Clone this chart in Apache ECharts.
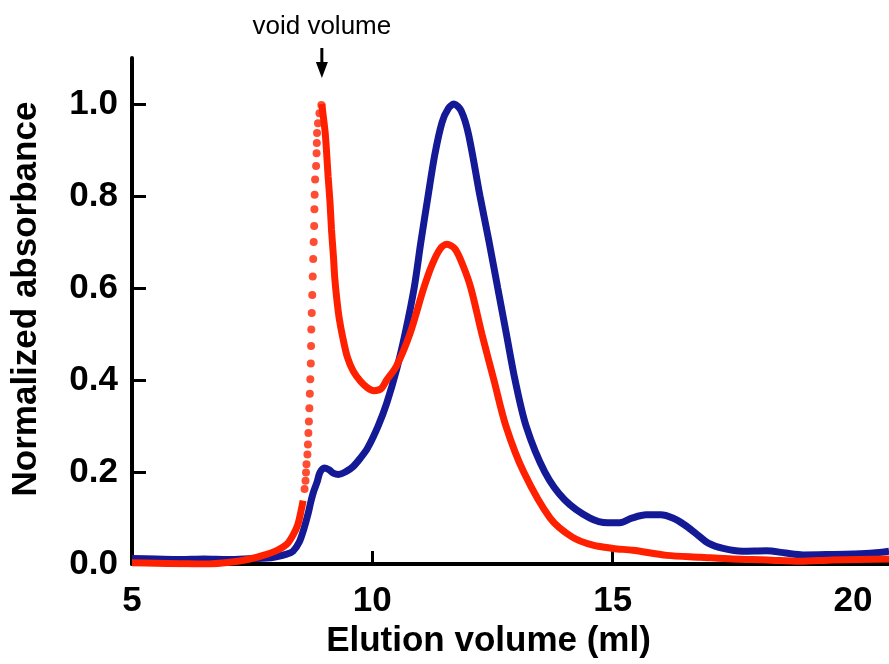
<!DOCTYPE html>
<html lang="en">
<head>
    <meta charset="UTF-8">
    <title>Elution profile</title>
    <script src="https://cdn.jsdelivr.net/npm/echarts@6/dist/echarts.min.js"></script>
    <style>
        html, body { margin: 0; padding: 0; background: #fff; }
        #main { width: 889px; height: 664px; }
    </style>
</head>
<body>
    <div id="main"></div>
    <script type="text/javascript">
        // blue trace
        var blueVolume = [5.0, 5.5, 6.0, 6.5, 7.0, 7.5, 7.8, 8.0, 8.2, 8.35, 8.48, 8.58, 8.66, 8.72, 8.78, 8.85, 8.91,
            9.0, 9.1, 9.2, 9.3, 9.45, 9.6, 9.75, 9.9, 10.12, 10.3, 10.51, 10.68, 10.87, 11.01, 11.16, 11.3, 11.45,
            11.58, 11.7, 11.85, 12.0, 12.24, 12.43, 12.61, 12.79, 12.97, 13.2, 13.59, 14.0, 14.53, 14.9, 15.15,
            15.4, 15.7, 16.0, 16.25, 16.5, 16.75, 17.0, 17.3, 17.7, 18.2, 18.6, 18.96, 19.58, 20.0, 20.42, 20.75];
        var blueAbs = [0.012, 0.011, 0.010, 0.011, 0.010, 0.012, 0.013, 0.016, 0.021, 0.028, 0.048, 0.078, 0.108, 0.135, 0.158, 0.178, 0.199,
            0.209, 0.205, 0.197, 0.195, 0.201, 0.212, 0.23, 0.252, 0.3, 0.35, 0.425, 0.5, 0.6, 0.7, 0.8, 0.89, 0.96,
            0.99, 1.0, 0.985, 0.935, 0.8, 0.7, 0.6, 0.5, 0.4, 0.3, 0.2, 0.14, 0.1, 0.09, 0.09,
            0.1, 0.107, 0.107, 0.1, 0.085, 0.065, 0.045, 0.034, 0.028, 0.029, 0.024, 0.02, 0.021, 0.022, 0.024, 0.028];

        // red trace, baseline before the void peak
        var redBaseVolume = [5.0, 5.5, 6.0, 6.5, 7.04, 7.45, 7.73, 8.02, 8.22, 8.35, 8.45, 8.52, 8.56];
        var redBaseAbs = [0.003, 0.002, 0.001, 0.0, 0.004, 0.011, 0.019, 0.03, 0.043, 0.063, 0.086, 0.117, 0.138];

        // red trace, steep rise (individual samples visible)
        var redRiseVolume = [8.59, 8.61, 8.62, 8.63, 8.65, 8.66, 8.67, 8.68, 8.69, 8.70, 8.71, 8.72, 8.725, 8.73, 8.74,
            8.75, 8.76, 8.77, 8.78, 8.79, 8.795, 8.80, 8.81, 8.83, 8.84, 8.845, 8.85, 8.87, 8.90, 8.94];
        var redRiseAbs = [0.163, 0.181, 0.199, 0.217, 0.238, 0.26, 0.285, 0.31, 0.339, 0.37, 0.402, 0.436, 0.474, 0.51, 0.546,
            0.585, 0.625, 0.663, 0.7, 0.735, 0.771, 0.803, 0.836, 0.865, 0.893, 0.915, 0.937, 0.958, 0.98, 0.998];

        // red trace, from void peak onward
        var redTailVolume = [8.95, 8.98, 9.02, 9.05, 9.08, 9.12, 9.15, 9.19, 9.22, 9.26, 9.31, 9.39, 9.48, 9.6, 9.75, 9.9,
            10.03, 10.18, 10.3, 10.5, 10.78, 11.07, 11.24, 11.41, 11.55, 11.72, 11.89, 12.05, 12.28, 12.53, 12.78,
            13.15, 13.7, 14.17, 14.59, 15.01, 15.42, 16.13, 16.82, 17.5, 18.21, 18.9, 19.58, 20.75];
        var redTailAbs = [1.0, 0.973, 0.937, 0.893, 0.843, 0.786, 0.728, 0.67, 0.62, 0.577, 0.535, 0.49, 0.45, 0.42, 0.398, 0.383,
            0.377, 0.381, 0.4, 0.43, 0.5, 0.6, 0.65, 0.685, 0.695, 0.685, 0.648, 0.6, 0.5, 0.4, 0.3,
            0.2, 0.1, 0.058, 0.041, 0.034, 0.03, 0.019, 0.015, 0.011, 0.009, 0.006, 0.009, 0.011];

        var xTicks = [5, 10, 15, 20];
        var yTicks = [0, 0.2, 0.4, 0.6, 0.8, 1.0];
        var voidVolume = 8.95;

        function pairs(xs, ys) {
            return xs.map(function (x, i) { return [x, ys[i]]; });
        }

        var BLUE = '#141a96';
        var RED = '#ff2000';
        var FONT = '"Liberation Sans", Arial, Helvetica, sans-serif';

        var myChart = echarts.init(document.getElementById('main'));
        myChart.setOption({
            animation: false,
            backgroundColor: '#fff',
            grid: { left: 132, right: 0, top: 58, bottom: 97 },
            xAxis: {
                type: 'value',
                min: 5,
                max: 20.75,
                interval: 5,
                name: 'Elution volume (ml)',
                nameLocation: 'middle',
                nameGap: 58,
                nameTextStyle: { fontFamily: FONT, fontWeight: 'bold', fontSize: 35, color: '#000', padding: [0, 44, 0, 0] },
                axisLine: { lineStyle: { color: '#000', width: 4 } },
                axisTick: { inside: true, length: 13, lineStyle: { color: '#000', width: 3 }, customValues: xTicks },
                axisLabel: { margin: 20, fontFamily: FONT, fontWeight: 'bold', fontSize: 35, color: '#000', customValues: xTicks },
                splitLine: { show: false }
            },
            yAxis: {
                type: 'value',
                min: 0,
                max: 1.1,
                interval: 0.2,
                name: 'Normalized absorbance',
                nameLocation: 'middle',
                nameGap: 88,
                nameTextStyle: { fontFamily: FONT, fontWeight: 'bold', fontSize: 35, color: '#000', padding: [0, 0, 0, 24] },
                axisLine: { lineStyle: { color: '#000', width: 4 } },
                axisTick: { inside: true, length: 14, lineStyle: { color: '#000', width: 3 }, customValues: yTicks },
                axisLabel: {
                    margin: 14, fontFamily: FONT, fontWeight: 'bold', fontSize: 35, color: '#000', customValues: yTicks,
                    formatter: function (v) { return v.toFixed(1); }
                },
                splitLine: { show: false }
            },
            series: [
                {
                    type: 'line',
                    data: pairs(blueVolume, blueAbs),
                    smooth: 0.3,
                    showSymbol: false,
                    lineStyle: { color: BLUE, width: 7 },
                    z: 2
                },
                {
                    type: 'line',
                    data: pairs(redBaseVolume, redBaseAbs),
                    smooth: 0.3,
                    showSymbol: false,
                    lineStyle: { color: RED, width: 7 },
                    z: 3
                },
                {
                    type: 'scatter',
                    data: pairs(redRiseVolume, redRiseAbs),
                    symbolSize: 8,
                    itemStyle: { color: RED },
                    z: 3
                },
                {
                    type: 'line',
                    data: pairs(redTailVolume, redTailAbs),
                    smooth: 0.3,
                    showSymbol: false,
                    lineStyle: { color: RED, width: 7 },
                    z: 3
                }
            ]
        });

        // "void volume" marker above the red peak
        var p = myChart.convertToPixel({ gridIndex: 0 }, [voidVolume, 1.0]);
        myChart.setOption({
            graphic: [
                {
                    type: 'text',
                    x: p[0], y: p[1] - 77,
                    style: { text: 'void volume', fontFamily: FONT, fontSize: 26, fill: '#000', align: 'center', verticalAlign: 'middle' }
                },
                {
                    type: 'line',
                    shape: { x1: p[0], y1: p[1] - 56, x2: p[0], y2: p[1] - 38 },
                    style: { stroke: '#000', lineWidth: 3 }
                },
                {
                    type: 'polygon',
                    shape: { points: [[p[0] - 6, p[1] - 42], [p[0] + 6, p[1] - 42], [p[0], p[1] - 26]] },
                    style: { fill: '#000' }
                }
            ]
        });
    </script>
</body>
</html>
